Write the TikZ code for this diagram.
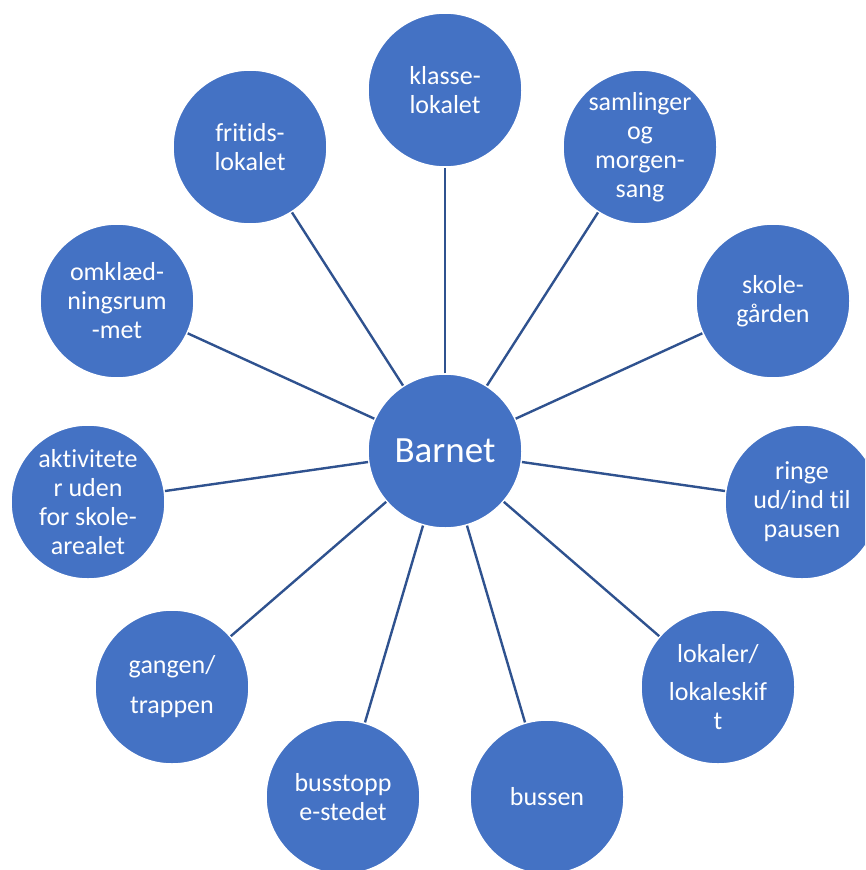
\documentclass[tikz,border=0pt]{standalone}
\usepackage{fontspec}
\setmainfont{Carlito}[RawFeature={-liga}]
\definecolor{bubble}{HTML}{4472C4}
\definecolor{spoke}{HTML}{2F528F}
\tikzset{
  topic/.style={circle,fill=bubble,draw=white,line width=1.5pt,minimum size=154pt,
    inner sep=0pt,text=white,align=center,font=\fontsize{26}{29}\selectfont},
  hub/.style={topic,font=\fontsize{37}{40}\selectfont},
  spokeline/.style={draw=spoke,line width=2.4pt}
}
\begin{document}
\begin{tikzpicture}[x=1pt,y=-1pt]
    \clip (0,0) rectangle (865,870);
    \node[hub] (barnet) at (445,451) {Barnet};
    \node[topic] (klasse) at (445,90) {klasse-\\lokalet};
    \node[topic] (samling) at (640,147) {samlinger\\og\\morgen-\\sang};
    \node[topic] (gaard) at (773,301) {skole-\\gården};
    \node[topic] (ringe) at (802,502) {ringe\\ud/ind til\\pausen};
    \node[topic] (lokaler) at (718,687) {lokaler/\\[9pt]lokaleskif\\t};
    \node[topic] (bussen) at (547,797) {bussen};
    \node[topic] (stop) at (343,797) {busstopp\\e-stedet};
    \node[topic] (gangen) at (172,687) {gangen/\\[11pt]trappen};
    \node[topic] (ude) at (88,502) {aktivitete\\r uden\\for skole-\\arealet};
    \node[topic] (omkl) at (117,301) {omklæd-\\ningsrum\\-met};
    \node[topic] (fritid) at (250,147) {fritids-\\lokalet};
    % spokes from the child to each place
    \foreach \n in {klasse,samling,gaard,ringe,lokaler,bussen,stop,gangen,ude,omkl,fritid}
      \draw[spokeline] (barnet) -- (\n);
\end{tikzpicture}
\end{document}
